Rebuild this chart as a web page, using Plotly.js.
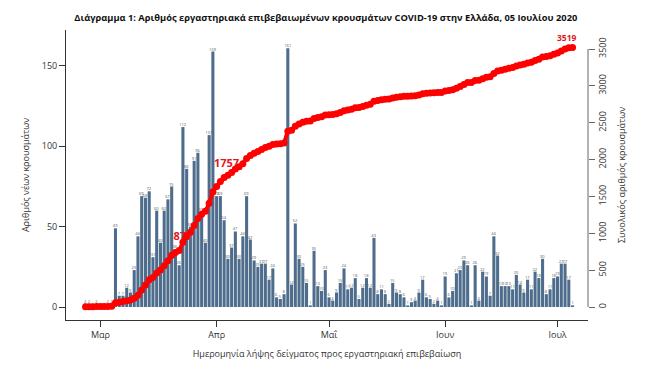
<!DOCTYPE html>
<html><head><meta charset="utf-8">
<script src="https://cdn.plot.ly/plotly-3.0.1.min.js"></script>
<style>html,body{margin:0;padding:0;background:#fff}#chart{width:669px;height:381px}</style>
</head><body><div id="chart"></div>
<script>
// First sample date of the daily series
const startDate = '2020-02-26';
// Daily new lab-confirmed cases by sample date
const daily = [
  2,2,0,2,0,0,2,2,
  49,7,7,12,9,23,44,69,68,72,
  31,60,40,60,67,75,36,26,112,86,
  50,91,96,59,40,107,159,69,69,54,
  30,37,47,30,44,69,42,29,25,27,
  27,17,24,6,5,8,161,14,52,30,
  25,15,1,35,13,10,23,6,4,9,
  15,24,11,12,18,5,12,18,12,43,
  8,11,8,2,15,9,8,6,1,3,
  4,9,17,6,5,2,4,1,19,6,
  10,21,23,29,26,1,26,4,22,19,
  7,44,32,13,13,13,11,20,14,9,
  17,11,22,18,30,8,11,18,19,27,
  27,17,1
];
const monthTicks = ['2020-03-01','2020-04-01','2020-05-01','2020-06-01','2020-07-01'];
const monthLabels = ['Μαρ','Απρ','Μαΐ','Ιουν','Ιουλ'];
const leftTicks = [0,50,100,150];
const rightTicks = [0,500,1000,1500,2000,2500,3000,3500];
const labelBehind = ['2020-03-23'];
const labelFront = ['2020-04-03'];

// build dates
const dates = [];
{
  const d0 = new Date(startDate + 'T00:00:00Z');
  for (let i = 0; i < daily.length; i++) {
    const d = new Date(d0.getTime() + i*86400000);
    dates.push(d.toISOString().slice(0,10));
  }
}
const cum = [];
daily.reduce((s,v)=>{ s+=v; cum.push(s); return s; }, 0);
const cumAt = d => cum[dates.indexOf(d)];
const lastDate = dates[dates.length-1];

const F = 'Open Sans, sans-serif';
const RED = '#ff0000';
const LRED = '#e01822';

const traces = [
  {type:'bar', x:dates, y:daily, marker:{color:'#4e6d8c'},
   text:daily.map(String), textposition:'outside', textangle:0, constraintext:'none',
   cliponaxis:false, textfont:{size:4, color:'#555', family:F}, hoverinfo:'skip'},
  {type:'scatter', mode:'text', x:labelBehind, y:labelBehind.map(cumAt), yaxis:'y2',
   text:labelBehind.map(d=>String(cumAt(d))),
   textposition:'top center', textfont:{size:11, color:LRED, family:F, weight:'bold'},
   cliponaxis:false, hoverinfo:'skip'},
  {type:'scatter', mode:'lines+markers', x:dates, y:cum, yaxis:'y2',
   line:{color:RED, width:4}, marker:{color:RED, size:7},
   cliponaxis:false, hoverinfo:'skip'}
];

const annotations = labelFront.map(d => ({
  x:d, y:cumAt(d), xref:'x', yref:'y2', text:String(cumAt(d)), showarrow:false,
  xanchor:'center', yanchor:'bottom', xshift:2, yshift:5,
  font:{size:11, color:LRED, family:F, weight:'bold'}
})).concat([{
  x:lastDate, y:cumAt(lastDate), xref:'x', yref:'y2', text:String(cumAt(lastDate)), showarrow:false,
  xanchor:'center', yanchor:'bottom', xshift:-6, yshift:3,
  font:{size:8.5, color:LRED, family:F, weight:'bold'}
}]);

const layout = {
  width:669, height:381, showlegend:false,
  paper_bgcolor:'#fff', plot_bgcolor:'#fff',
  margin:{l:66, r:81, t:30, b:61},
  bargap:0.18,
  font:{family:F, color:'#333', size:9},
  title:{text:'Διάγραμμα 1: Αριθμός εργαστηριακά επιβεβαιωμένων κρουσμάτων COVID-19 στην Ελλάδα, 05 Ιουλίου 2020',
         font:{size:9.3, color:'#111', family:F, weight:'bold'}, x:0.487, xanchor:'center', y:0.953, yanchor:'middle', yref:'container'},
  xaxis:{type:'date', range:['2020-02-20 19:00','2020-07-09 03:00'],
         tickvals:monthTicks, ticktext:monthLabels, ticks:'outside', ticklen:6, tickcolor:'#333',
         showline:true, linecolor:'#333', linewidth:1, showgrid:false, zeroline:false,
         tickfont:{size:9, color:'#333'},
         title:{text:'Ημερομηνία λήψης δείγματος προς εργαστηριακή επιβεβαίωση', font:{size:9, color:'#333'}, standoff:10}},
  yaxis:{range:[-8.09,172.4], tickvals:leftTicks, ticks:'outside', ticklen:6, tickcolor:'#333',
         showline:true, linecolor:'#333', linewidth:1, showgrid:false, zeroline:false,
         tickfont:{size:9, color:'#333'},
         title:{text:'Αριθμός νέων κρουσμάτων', font:{size:9, color:'#333'}, standoff:10}},
  yaxis2:{overlaying:'y', side:'right', range:[-176.4,3757.8], tickvals:rightTicks, tickangle:-90,
          ticks:'outside', ticklen:6, tickcolor:'#666', showline:false, showgrid:false, zeroline:false,
          tickfont:{size:9, color:'#333'},
          title:{text:'Συνολικός αριθμός κρουσμάτων', font:{size:9, color:'#333'}, standoff:10}},
  shapes:[{type:'line', xref:'paper', x0:1, x1:1, yref:'y2', y0:0, y1:3500, line:{color:'#666', width:1}}],
  annotations:annotations
};

Plotly.newPlot('chart', traces, layout, {staticPlot:true, displayModeBar:false});
</script>
</body></html>
